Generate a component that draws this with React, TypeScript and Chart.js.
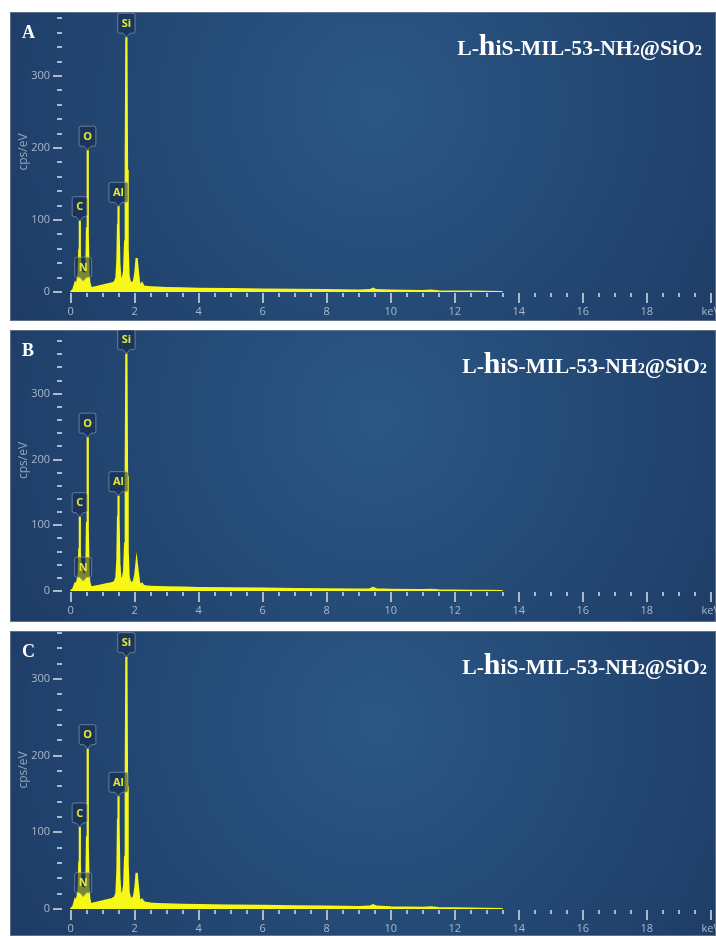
import React, { useEffect, useRef } from 'react';
import { Chart, registerables } from 'chart.js';
Chart.register(...registerables);

// ---------- data ----------
const energyKeV = [
  0.0, 0.08, 0.14, 0.18, 0.22, 0.25, 0.27, 0.28, 0.29, 0.31,
  0.33, 0.35, 0.37, 0.39, 0.41, 0.43, 0.45, 0.47, 0.49, 0.51,
  0.525, 0.54, 0.56, 0.58, 0.61, 0.65, 0.7, 0.8, 0.9, 1.0,
  1.1, 1.2, 1.3, 1.38, 1.43, 1.46, 1.48, 1.49, 1.5, 1.52,
  1.55, 1.59, 1.63, 1.67, 1.7, 1.72, 1.74, 1.76, 1.78, 1.81,
  1.85, 1.9, 1.95, 1.98, 2.02, 2.06, 2.1, 2.14, 2.18, 2.23,
  2.27, 2.35, 2.5, 2.7, 3.0, 3.5, 4.0, 5.0, 6.0, 7.0,
  8.0, 9.0, 9.35, 9.45, 9.55, 10.0, 11.0, 11.25, 11.5, 12.0,
  12.5, 13.0, 13.5,
];
const countsA = [
  0, 3, 12, 8, 18, 28, 60, 99, 55, 20,
  26, 15, 28, 20, 27, 14, 22, 12, 30, 90,
  197, 80, 25, 14, 8, 5, 6, 7, 8, 9,
  10, 11, 12, 14, 20, 45, 95, 119, 90, 40,
  20, 17, 19, 30, 70, 180, 354, 170, 60, 22,
  14, 12, 13, 16, 26, 47, 28, 12, 9, 12,
  8, 7, 6.5, 6, 5.5, 5, 4.5, 4, 3.5, 3,
  2.5, 2, 2.5, 4.5, 2.5, 1.8, 1.2, 1.8, 1, 0.7,
  0.4, 0.2, 0,
];
const countsB = [
  0, 3, 11, 9, 17, 27, 65, 113, 60, 21,
  25, 16, 27, 21, 26, 15, 21, 13, 32, 105,
  234, 95, 27, 14, 8, 5, 6, 7, 8, 9,
  10, 11, 12, 14, 21, 50, 115, 145, 110, 42,
  21, 17, 19, 31, 72, 185, 361, 175, 62, 22,
  14, 12, 13, 16, 25, 44, 27, 12, 9, 11,
  8, 7, 6.5, 6, 5.5, 5, 4.5, 4, 3.5, 3,
  2.5, 2, 2.5, 4.5, 2.5, 1.8, 1.2, 1.8, 1, 0.7,
  0.4, 0.2, 0,
];
const countsC = [
  0, 3, 12, 9, 18, 28, 62, 107, 58, 21,
  27, 16, 29, 21, 28, 15, 22, 13, 31, 95,
  209, 85, 26, 14, 8, 6, 7, 8, 9, 10,
  11, 12, 13, 15, 21, 50, 118, 147, 112, 42,
  22, 18, 20, 31, 68, 170, 329, 160, 58, 22,
  15, 13, 14, 17, 27, 47, 29, 13, 10, 12,
  9, 8, 7, 6.5, 6, 5.5, 5, 4.5, 4, 3.5,
  3, 2.5, 3, 5, 3, 2, 1.4, 2, 1.2, 0.8,
  0.5, 0.2, 0,
];
const elementNames = ['C', 'N', 'O', 'Al', 'Si'];
const elementKeV = [0.28, 0.39, 0.525, 1.49, 1.74];
const labelTipA = [99, 15, 197, 119, 354];
const labelTipB = [113, 15, 234, 145, 361];
const labelTipC = [107, 16, 209, 147, 329];
const xTickValues = [0, 2, 4, 6, 8, 10, 12, 14, 16, 18, 20];
const xTickLabels = ['0', '2', '4', '6', '8', '10', '12', '14', '16', '18', 'keV'];
const xMinorStep = 0.5;
const yTickValues = [0, 100, 200, 300];
const yMinorStep = 20;
const yAxisTitle = 'cps/eV';
const sampleTitleParts = ['L-', 'h', 'iS-MIL-53-NH', '2', '@SiO', '2'];
const sampleTitleKinds = [0, 1, 0, 2, 0, 2];
const panelLetters = ['A', 'B', 'C'];
const panelYMax = [389, 397, 362.5];
const panelCounts = [countsA, countsB, countsC];
const panelTips = [labelTipA, labelTipB, labelTipC];

// ---------- layout / style ----------
const PANEL_LEFT = 10;
const PANEL_WIDTH = 706;
const panelTop = [12, 330, 631];
const panelHeight = [309, 292, 305];
const panelAxisBottom = [280, 261, 278];
const titleRight = [692, 697, 697];
const titleBaseline = [43, 43, 43];
const TITLE_WIDTH = 245;
const X_MIN = -0.272;
const X_MAX = 20;
const Y_SCALE_WIDTH = 52;
const AXIS_COLOR = '#a9b8ca';
const YELLOW = '#f8f818';

function drawTitle(ctx: CanvasRenderingContext2D, right: number, baseline: number) {
  const fontFor = (k: number, s: number) =>
    `bold ${k === 1 ? s * 1.38 : k === 2 ? s * 0.66 : s}px "Liberation Serif", "Times New Roman", serif`;
  let s = 19;
  const measure = (sz: number) => {
    let w = 0;
    sampleTitleParts.forEach((p, i) => {
      ctx.font = fontFor(sampleTitleKinds[i], sz);
      w += ctx.measureText(p).width;
    });
    return w;
  };
  s = s * (TITLE_WIDTH / measure(s));
  let x = right - measure(s);
  ctx.fillStyle = '#ffffff';
  ctx.textAlign = 'left';
  ctx.textBaseline = 'alphabetic';
  sampleTitleParts.forEach((p, i) => {
    ctx.font = fontFor(sampleTitleKinds[i], s);
    ctx.fillText(p, x, baseline);
    x += ctx.measureText(p).width;
  });
}

function Panel({ idx }: { idx: number }) {
  const ref = useRef<HTMLCanvasElement>(null);
  useEffect(() => {
    const canvas = ref.current!;
    const counts = panelCounts[idx];
    const tips = panelTips[idx];
    const H = panelHeight[idx];
    const bottom = panelAxisBottom[idx];
    const data = energyKeV.map((e, i) => ({ x: e, y: counts[i] }));

    const decor = {
      id: 'decor',
      beforeDraw(chart: any) {
        const { ctx, width, height } = chart;
        ctx.save();
        const g = ctx.createRadialGradient(width * 0.52, height * 0.3, 0, width * 0.52, height * 0.3, width * 0.62);
        g.addColorStop(0, '#2b5786');
        g.addColorStop(1, '#1d3b64');
        ctx.fillStyle = g;
        ctx.fillRect(0, 0, width, height);
        ctx.strokeStyle = 'rgba(120,135,155,0.7)';
        ctx.lineWidth = 1;
        ctx.strokeRect(0.5, 0.5, width - 1, height - 1);
        ctx.restore();
      },
      afterDraw(chart: any) {
        const { ctx, chartArea } = chart;
        const xs = chart.scales.x;
        const ys = chart.scales.y;
        ctx.save();
        ctx.fillStyle = AXIS_COLOR;
        // x ticks: major (long) and minor (short)
        for (let k = 0; k <= X_MAX / xMinorStep; k++) {
          const v = k * xMinorStep;
          const major = k % 4 === 0;
          const px = Math.round(xs.getPixelForValue(v));
          ctx.fillRect(px - 1, chartArea.bottom + 1, 2, major ? 10 : 4);
        }
        // minor y ticks
        for (let v = yMinorStep; v <= ys.max - 1; v += yMinorStep) {
          if (v % 100 === 0) continue;
          const py = ys.getPixelForValue(v);
          ctx.fillRect(chartArea.left - 5, Math.round(py) - 1, 5, 2);
        }
        // element labels
        ctx.font = 'bold 11px "Open Sans", "DejaVu Sans", sans-serif';
        ctx.textAlign = 'center';
        ctx.textBaseline = 'middle';
        elementNames.forEach((name, i) => {
          const x = xs.getPixelForValue(elementKeV[i]);
          const y = ys.getPixelForValue(tips[i]);
          const w = ctx.measureText(name).width + 8;
          const h = 20;
          const p = 4;
          const l = x - w / 2;
          const r = x + w / 2;
          const t = y - p - h;
          const b = y - p;
          const rad = 2;
          ctx.beginPath();
          ctx.moveTo(l + rad, t);
          ctx.lineTo(r - rad, t);
          ctx.quadraticCurveTo(r, t, r, t + rad);
          ctx.lineTo(r, b - rad);
          ctx.quadraticCurveTo(r, b, r - rad, b);
          ctx.lineTo(x + 3.5, b);
          ctx.lineTo(x, y);
          ctx.lineTo(x - 3.5, b);
          ctx.lineTo(l + rad, b);
          ctx.quadraticCurveTo(l, b, l, b - rad);
          ctx.lineTo(l, t + rad);
          ctx.quadraticCurveTo(l, t, l + rad, t);
          ctx.closePath();
          ctx.fillStyle = 'rgba(22,42,72,0.55)';
          ctx.fill();
          ctx.strokeStyle = 'rgba(150,168,190,0.6)';
          ctx.lineWidth = 1;
          ctx.stroke();
          ctx.fillStyle = '#e6e63a';
          ctx.fillText(name, x, t + h / 2 + 0.5);
        });
        // panel letter
        ctx.fillStyle = '#ffffff';
        ctx.textAlign = 'left';
        ctx.textBaseline = 'alphabetic';
        ctx.font = 'bold 18px "Liberation Serif", "Times New Roman", serif';
        ctx.fillText(panelLetters[idx], 12, 26);
        drawTitle(ctx, titleRight[idx], titleBaseline[idx]);
        ctx.restore();
      },
    };

    const chart = new Chart(canvas, {
      type: 'line',
      data: {
        datasets: [
          {
            data,
            borderColor: YELLOW,
            backgroundColor: YELLOW,
            borderWidth: 2.2,
            pointRadius: 0,
            fill: 'origin',
            tension: 0,
          },
        ],
      },
      options: {
        animation: false,
        responsive: false,
        events: [],
        layout: { padding: { left: 0, top: 0, right: PANEL_WIDTH - 700.7, bottom: 0 } },
        plugins: { legend: { display: false }, tooltip: { enabled: false } },
        scales: {
          x: {
            type: 'linear',
            min: X_MIN,
            max: X_MAX,
            afterBuildTicks: (s: any) => {
              s.ticks = xTickValues.map((v) => ({ value: v }));
            },
            afterFit: (s: any) => {
              s.height = H - bottom;
              s.paddingLeft = 0;
              s.paddingRight = 0;
            },
            ticks: {
              autoSkip: false,
              maxRotation: 0,
              color: AXIS_COLOR,
              padding: 13,
              font: { family: '"Open Sans", "DejaVu Sans", sans-serif', size: 11 },
              callback: (_v: any, i: number) => xTickLabels[i],
            },
            grid: { display: false, drawOnChartArea: false, drawTicks: false },
            border: { display: false },
          },
          y: {
            type: 'linear',
            min: 0,
            max: panelYMax[idx],
            afterBuildTicks: (s: any) => {
              s.ticks = yTickValues.map((v) => ({ value: v }));
            },
            afterFit: (s: any) => {
              s.width = Y_SCALE_WIDTH;
              s.paddingTop = 0;
              s.paddingBottom = 0;
            },
            ticks: {
              color: AXIS_COLOR,
              padding: 3,
              font: { family: '"Open Sans", "DejaVu Sans", sans-serif', size: 11 },
            },
            grid: { drawOnChartArea: false, drawTicks: true, tickLength: 9, color: AXIS_COLOR, lineWidth: 2 },
            border: { display: false },
            title: {
              display: true,
              text: yAxisTitle,
              color: '#8fa4bc',
              padding: { top: 6, bottom: 0 },
              font: { family: '"Open Sans", "DejaVu Sans", sans-serif', size: 12 },
            },
          },
        },
      },
      plugins: [decor],
    } as any);
    return () => chart.destroy();
  }, [idx]);
  return (
    <canvas
      ref={ref}
      width={PANEL_WIDTH}
      height={panelHeight[idx]}
      style={{ position: 'absolute', left: PANEL_LEFT, top: panelTop[idx], display: 'block' }}
    />
  );
}

export default function App() {
  return (
    <div
      style={{
        position: 'absolute',
        left: 0,
        top: 0,
        width: 716,
        height: 936,
        background: '#ffffff',
        overflow: 'hidden',
      }}
    >
      {panelLetters.map((_, i) => (
        <Panel key={i} idx={i} />
      ))}
    </div>
  );
}
